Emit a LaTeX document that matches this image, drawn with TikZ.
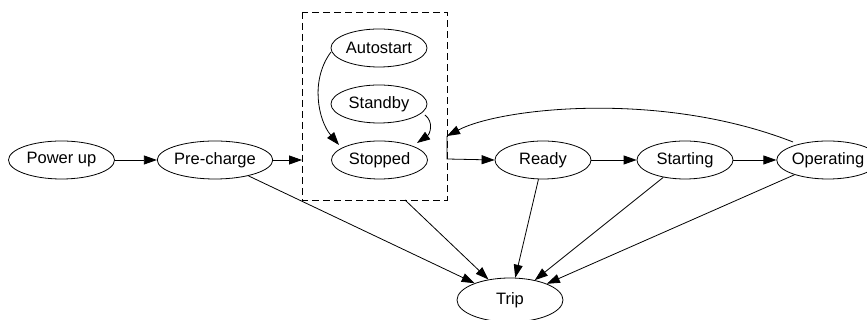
\documentclass[tikz,border=0pt]{standalone}
\usepackage{fontspec}
\setmainfont{Liberation Sans}
\usetikzlibrary{shapes.geometric,arrows.meta}
\begin{document}
\begin{tikzpicture}[x=1pt,y=1pt,
  state/.style={draw,ellipse,line width=0.8pt,inner sep=0pt,minimum width=96pt,minimum height=38pt,font=\fontsize{16.5}{20}\selectfont},
  widestate/.style={state,minimum width=106pt},
  edge/.style={line width=0.8pt,-{Triangle[length=13pt,width=9pt]}},
  cluster/.style={draw,line width=0.8pt,dash pattern=on 7pt off 4pt}]
\useasboundingbox (0,0) rectangle (867,320);
\draw[cluster] (302,308) rectangle (447,120);
\node[widestate] (powerup) at (61.5,160) {Power up};
\node[widestate] (precharge) at (215,160) {Pre-charge};
\node[state] (autostart) at (379,272) {Autostart};
\node[state] (standby) at (379,216) {Standby};
\node[state] (stopped) at (379.5,160) {Stopped};
\node[state] (ready) at (543,160) {Ready};
\node[state] (starting) at (685,160) {Starting};
\node[state] (operating) at (828,160) {Operating};
\node[widestate,minimum height=44pt] (trip) at (510,20) {Trip};
\coordinate (boxW) at (302,160);
\coordinate (boxS) at (405,120);
\coordinate (boxE1) at (447,184);
\coordinate (boxE2) at (447,161);
\coordinate (opStart) at (793,178);
\coordinate (asStart) at (331,268);
\coordinate (asEnd) at (339,175);
\coordinate (sbStart) at (425,205);
\coordinate (sbEnd) at (417,177);
\draw[edge] (powerup) -- (precharge);
\draw[edge] (precharge) -- (boxW);
\draw[edge] (opStart) .. controls (660,230) and (500,212) .. (boxE1);
\draw[edge] (boxE1) -- (boxE2) -- (ready.west);
\draw[edge] (ready) -- (starting);
\draw[edge] (starting) -- (operating);
\draw[edge] (asStart) .. controls (310,240) and (318,200) .. (asEnd);
\draw[edge] (sbStart) .. controls (434,198) and (430,186) .. (sbEnd);
\draw[edge] (precharge) -- (trip);
\draw[edge] (boxS) -- (trip);
\draw[edge] (ready) -- (trip);
\draw[edge] (starting) -- (trip);
\draw[edge] (operating) -- (trip);
\end{tikzpicture}
\end{document}
